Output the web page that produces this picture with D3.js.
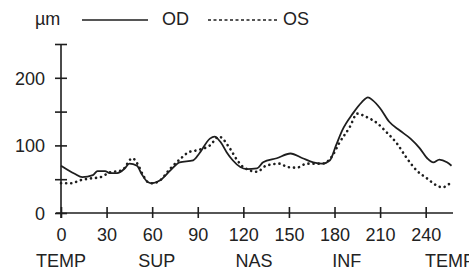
<!DOCTYPE html>
<html>
<head>
<meta charset="utf-8">
<script src="https://cdn.jsdelivr.net/npm/d3@7"></script>
<style>
  body { margin: 0; background: #fff; }
  svg { display: block; }
  text { font-family: "Liberation Sans", Arial, sans-serif; fill: #222; }
</style>
</head>
<body>
<script>
// OD (solid) thickness profile, position along scan vs µm
const odPos = [0, 9, 14, 21, 24, 29, 32, 37, 42, 45, 50, 53, 57, 60, 65, 72, 78, 87, 91, 98, 101, 105, 109, 113, 118, 122, 129, 133, 142, 151, 159, 166, 172, 177, 181, 185, 192, 198, 202, 205, 210, 216, 223, 230, 236, 241, 245, 249, 254, 257];
const odVal = [70, 58, 53, 56, 62, 62, 59, 59, 66, 73, 70, 58, 46, 44, 48, 63, 75, 78, 88, 110, 113, 105, 90, 78, 68, 65, 66, 75, 81, 88, 81, 75, 73, 78, 100, 122, 147, 164, 171, 167, 155, 135, 122, 110, 96, 81, 75, 79, 75, 70];

// OS (dotted)
const osPos = [0, 7, 12, 19, 26, 32, 40, 47, 51, 54, 57, 60, 65, 72, 80, 84, 90, 98, 104, 111, 116, 120, 129, 135, 144, 149, 155, 162, 168, 172, 179, 183, 190, 195, 201, 208, 214, 221, 227, 234, 241, 247, 251, 256];
const osVal = [44, 44, 48, 51, 53, 60, 63, 81, 70, 56, 46, 44, 48, 66, 83, 90, 93, 100, 113, 96, 78, 68, 61, 70, 73, 68, 67, 73, 73, 73, 86, 103, 127, 147, 142, 133, 120, 103, 83, 63, 51, 41, 38, 44];

const xTicks = [0, 30, 60, 90, 120, 150, 180, 210, 240];
const yTicks = [0, 50, 100, 150, 200, 250];
const yLabels = [0, 100, 200];
const regionNames = ["TEMP", "SUP", "NAS", "INF", "TEMP"];
const regionPos = [0, 63, 127, 188, 256];

const W = 469, H = 276;
const ink = "#1e1e1e";

const svg = d3.select("body").append("svg").attr("width", W).attr("height", H);

const x = d3.scaleLinear().domain([0, 256]).range([61, 450]);
const y = d3.scaleLinear().domain([0, 250]).range([213, 44]);

// x axis
const xAxis = svg.append("g").attr("transform", `translate(0,${y(0)})`)
  .call(d3.axisBottom(x).tickValues(xTicks).tickSize(5).tickSizeOuter(0));
xAxis.select(".domain").attr("d", `M56,0H453`).attr("stroke", ink).attr("stroke-width", 1.6);
xAxis.selectAll(".tick line").attr("y1", -6).attr("y2", 5).attr("stroke", ink).attr("stroke-width", 1.6);
xAxis.selectAll(".tick text").attr("y", 28).attr("dy", 0)
  .attr("font-size", 18).attr("font-family", null).attr("fill", "#222");

// y axis
const yAxis = svg.append("g").attr("transform", `translate(${x(0)},0)`)
  .call(d3.axisLeft(y).tickValues(yTicks).tickSize(6).tickSizeOuter(0)
    .tickFormat(d => yLabels.includes(d) ? d : ""));
yAxis.select(".domain").attr("d", `M0,${y(250)}V${y(0) + 5}`).attr("stroke", ink).attr("stroke-width", 1.6);
yAxis.selectAll(".tick line").attr("x1", -6).attr("x2", 6).attr("stroke", ink).attr("stroke-width", 1.6);
yAxis.selectAll(".tick text").attr("x", -16).attr("dy", "0.35em")
  .attr("font-size", 18).attr("font-family", null).attr("fill", "#222");

// region names under the tick labels
svg.append("g").selectAll("text").data(regionNames).join("text")
  .attr("x", (d, i) => x(regionPos[i]))
  .attr("y", 267)
  .attr("text-anchor", "middle")
  .attr("font-size", 18)
  .text(d => d);

const line = d3.line().x(d => x(d[0])).y(d => y(d[1])).curve(d3.curveMonotoneX);

svg.append("path")
  .datum(osPos.map((p, i) => [p, osVal[i]]))
  .attr("d", line)
  .attr("fill", "none")
  .attr("stroke", ink)
  .attr("stroke-width", 2.6)
  .attr("stroke-linecap", "round")
  .attr("stroke-dasharray", "0.1,5");

svg.append("path")
  .datum(odPos.map((p, i) => [p, odVal[i]]))
  .attr("d", line)
  .attr("fill", "none")
  .attr("stroke", ink)
  .attr("stroke-width", 1.8);

// legend
const lg = svg.append("g");
lg.append("text").attr("x", 35).attr("y", 25).attr("font-size", 18).text("µm");
lg.append("line").attr("x1", 82).attr("x2", 148).attr("y1", 20).attr("y2", 20)
  .attr("stroke", ink).attr("stroke-width", 1.4);
lg.append("text").attr("x", 162).attr("y", 25).attr("font-size", 18).text("OD");
lg.append("line").attr("x1", 208).attr("x2", 278).attr("y1", 20).attr("y2", 20)
  .attr("stroke", ink).attr("stroke-width", 1.4)
  .attr("stroke-dasharray", "3,2.5");
lg.append("text").attr("x", 283).attr("y", 25).attr("font-size", 18).text("OS");
</script>
</body>
</html>
